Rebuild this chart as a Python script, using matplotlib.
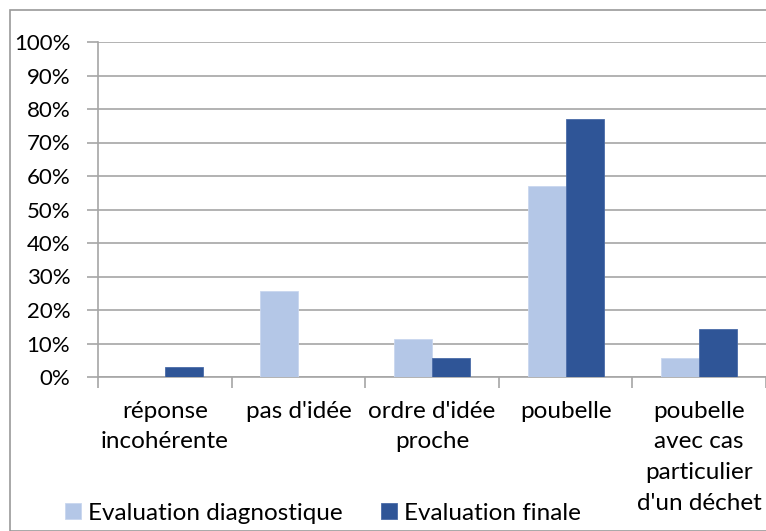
import matplotlib.pyplot as plt
from matplotlib.patches import Rectangle
from matplotlib.ticker import PercentFormatter

categories = ["réponse\nincohérente", "pas d'idée", "ordre d'idée\nproche",
              "poubelle", "poubelle\navec cas\nparticulier\nd'un déchet"]
diagnostique = [0.0, 25.7, 11.4, 57.1, 5.7]
finale = [2.9, 0.0, 5.7, 77.1, 14.3]
series_names = ["Evaluation diagnostique", "Evaluation finale"]
yticks = list(range(0, 101, 10))

plt.rcParams['font.family'] = ['Lato', 'DejaVu Sans']

fig = plt.figure(figsize=(7.66, 5.31), dpi=100)
W, H = 766, 531
ax = fig.add_axes([98 / W, 1 - 377 / H, (766 - 98) / W, (377 - 42) / H])

# outer chart frame
fig.patches.append(Rectangle((10 / W, 0), 1, 1 - 10 / H, transform=fig.transFigure,
                             fill=False, edgecolor='#9a9a9a', linewidth=1.2))

x = list(range(len(categories)))
w = 0.285
ax.bar([i - w / 2 for i in x], diagnostique, w, color='#b4c7e7',
       edgecolor='#c9d7ef', linewidth=0.6, label=series_names[0], zorder=3)
ax.bar([i + w / 2 for i in x], finale, w, color='#2f5597',
       edgecolor='#4a6ca8', linewidth=0.6, label=series_names[1], zorder=3)

ax.set_xlim(-0.5, len(categories) - 0.5)
ax.set_ylim(0, 100)
ax.set_yticks(yticks)
ax.yaxis.set_major_formatter(PercentFormatter(decimals=0))
ax.grid(axis='y', color='#a6a6a6', linewidth=1.2, zorder=0)

for s in ['top', 'right']:
    ax.spines[s].set_visible(False)
ax.spines['left'].set_color('#a6a6a6')
ax.spines['bottom'].set_color('#a6a6a6')
ax.spines['left'].set_linewidth(1.2)
ax.spines['bottom'].set_linewidth(1.2)

ax.set_xticks(x)
ax.set_xticklabels(categories, fontsize=17.5, linespacing=1.58, va='top')
ax.set_xticks([i - 0.5 for i in range(len(categories) + 1)], minor=True)
ax.tick_params(axis='x', which='major', length=0, pad=17)
ax.tick_params(axis='x', which='minor', length=8, color='#a6a6a6', width=1.2)
ax.tick_params(axis='y', length=8, color='#a6a6a6', width=1.2, labelsize=16, pad=12)

fig.legend(loc='center left', bbox_to_anchor=(55 / W, 1 - 513 / H), ncol=2,
           frameon=False, fontsize=17.5, handlelength=0.65, handleheight=0.65,
           handletextpad=0.3, columnspacing=1.6, borderaxespad=0)

fig.savefig('out.png', dpi=100)
